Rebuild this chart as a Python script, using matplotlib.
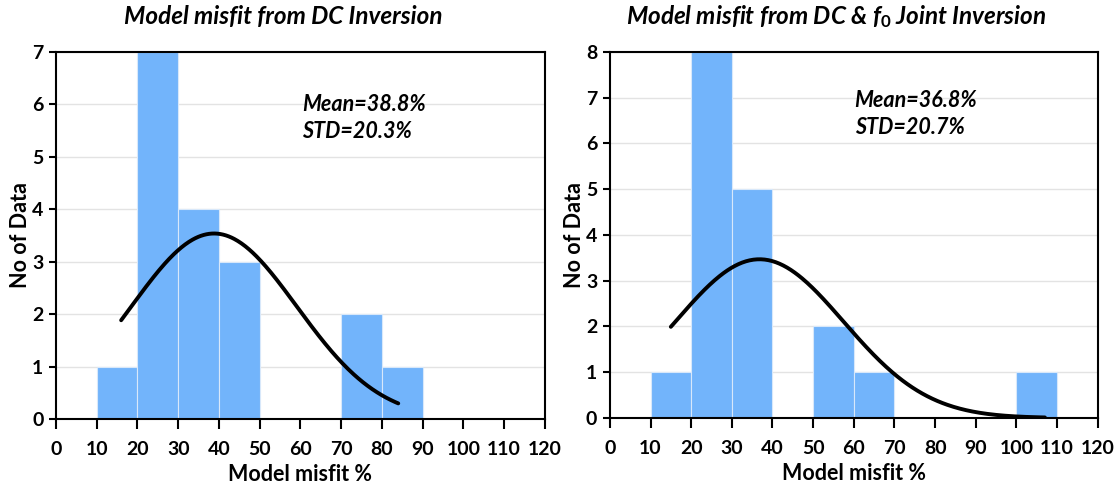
import matplotlib.pyplot as plt
import numpy as np

plt.rcParams['font.family'] = ['Lato', 'DejaVu Sans']
plt.rcParams['mathtext.fontset'] = 'custom'
plt.rcParams['mathtext.it'] = 'Lato:bold:italic'
plt.rcParams['mathtext.rm'] = 'Lato:bold'

# histogram bins (misfit %) and counts
bin_edges = [0, 10, 20, 30, 40, 50, 60, 70, 80, 90, 100, 110, 120]
counts_dc = [0, 1, 7, 4, 3, 0, 0, 2, 1, 0, 0, 0]
counts_joint = [0, 1, 8, 5, 0, 2, 1, 0, 0, 0, 1, 0]

mean_dc, std_dc = 38.8, 20.3
mean_joint, std_joint = 36.8, 20.7
curve_range_dc = (16, 84)
curve_range_joint = (15, 107)

titles = ['Model misfit from DC Inversion',
          'Model misfit from DC & $f_0$ Joint Inversion']

bar_color = '#72b4fb'


def draw_panel(ax, counts, mean, std, xr, ymax, title, text_xy):
    edges = np.array(bin_edges)
    widths = np.diff(edges)
    ax.bar(edges[:-1], counts, width=widths, align='edge', color=bar_color,
           edgecolor='#d8e8fa', linewidth=0.8, zorder=2)

    n = sum(counts)
    x = np.linspace(xr[0], xr[1], 300)
    y = n * 10 / (std * np.sqrt(2 * np.pi)) * np.exp(-0.5 * ((x - mean) / std) ** 2)
    ax.plot(x, y, color='black', lw=2.8, zorder=3, solid_capstyle='round')

    ax.set_xlim(0, 120)
    ax.set_ylim(0, ymax)
    ax.set_xticks(range(0, 121, 10))
    ax.set_yticks(range(0, ymax + 1))
    ax.grid(axis='y', color='#e3e3e3', lw=1, zorder=0)
    ax.set_axisbelow(True)
    for s in ax.spines.values():
        s.set_linewidth(1.5)
    ax.tick_params(axis='x', direction='out', length=7, width=1.5,
                   labelsize=14, pad=9)
    ax.tick_params(axis='y', direction='out', length=5, width=1.5,
                   labelsize=14, pad=4)
    for lbl in ax.get_xticklabels() + ax.get_yticklabels():
        lbl.set_fontweight('bold')
    ax.set_xlabel('Model misfit %', fontsize=15.5, fontweight='bold', labelpad=4)
    ax.set_ylabel('No of Data', fontsize=15.5, fontweight='bold', labelpad=1)
    ax.set_title(title, fontsize=17.5, fontweight='bold', style='italic',
                 x=0.465, pad=20)
    tx, ty1, ty2 = text_xy
    ax.text(tx, ty1, f'Mean={mean}%', fontsize=15.5, fontweight='bold',
            style='italic', va='center')
    ax.text(tx, ty2, f'STD={std}%', fontsize=15.5, fontweight='bold',
            style='italic', va='center')


fig = plt.figure(figsize=(11.19, 4.86), dpi=100)
ax1 = fig.add_axes([0.050, 0.138, 0.437, 0.755])
ax2 = fig.add_axes([0.545, 0.140, 0.436, 0.753])

draw_panel(ax1, counts_dc, mean_dc, std_dc, curve_range_dc, 7, titles[0],
           (60.5, 6.0, 5.49))
draw_panel(ax2, counts_joint, mean_joint, std_joint, curve_range_joint, 8,
           titles[1], (60.2, 6.95, 6.36))

fig.savefig('out.png', dpi=100)
